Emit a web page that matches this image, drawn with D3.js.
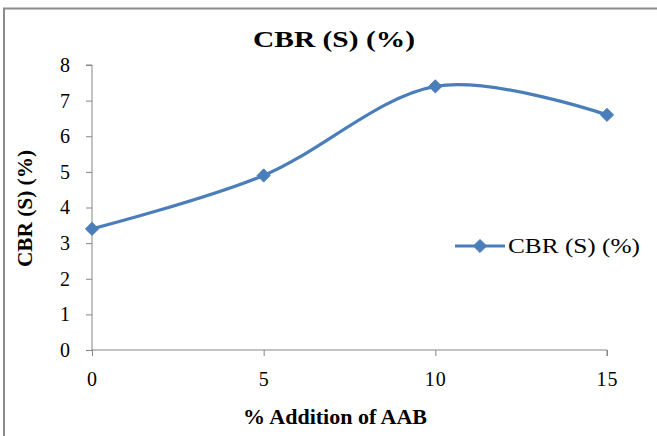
<!DOCTYPE html>
<html>
<head>
<meta charset="utf-8">
<script src="https://cdn.jsdelivr.net/npm/d3@7"></script>
<style>
  html, body { margin: 0; padding: 0; background: #fff; }
  svg { display: block; }
  text { font-family: "Liberation Serif", "Times New Roman", serif; fill: #000; }
</style>
</head>
<body>
<svg id="chart" width="657" height="436"></svg>
<script>
// CBR (soaked) versus percentage of AAB added
const additions = [0, 5, 10, 15];
const cbrValues = [3.4, 4.9, 7.4, 6.6];
const xTicks = [0, 5, 10, 15];
const yTicks = [0, 1, 2, 3, 4, 5, 6, 7, 8];
const seriesName = "CBR (S) (%)";
const chartTitle = "CBR (S) (%)";
const xTitle = "% Addition of AAB";
const yTitle = "CBR (S) (%)";

const svg = d3.select("#chart");
const W = 657, H = 436;
const lineColor = "#4a7ebb";
const axisColor = "#868686";

// chart area frame (top and left edges)
svg.append("line").attr("x1", 3).attr("x2", W).attr("y1", 8.5).attr("y2", 8.5)
  .attr("stroke", "#8c8c8c").attr("stroke-width", 2);
svg.append("line").attr("x1", 4).attr("x2", 4).attr("y1", 8).attr("y2", H)
  .attr("stroke", "#8c8c8c").attr("stroke-width", 2);

const x = d3.scaleLinear().domain([0, 15]).range([92, 607]);
const y = d3.scaleLinear().domain([0, 8]).range([350, 65]);

// y axis
const yAxis = d3.axisLeft(y).tickValues(yTicks).tickSize(6).tickPadding(16).tickFormat(d3.format("d"));
const gy = svg.append("g").attr("transform", `translate(${x(0)},0)`).call(yAxis);
gy.select(".domain").attr("stroke", axisColor).attr("d", `M-6,${y(8)}H0V${y(0)}`);
gy.selectAll(".tick line").attr("stroke", axisColor);
gy.selectAll(".tick text").attr("font-size", 20).attr("font-family", "Liberation Serif, serif").attr("fill", "#000");

// x axis
const xAxis = d3.axisBottom(x).tickValues(xTicks).tickSize(6).tickPadding(16).tickFormat(d3.format("d"));
const gx = svg.append("g").attr("transform", `translate(0,${y(0)})`).call(xAxis);
gx.select(".domain").attr("stroke", axisColor).attr("d", `M${x(0)},0H${x(15)}V6`);
gx.selectAll(".tick line").attr("stroke", axisColor);
gx.selectAll(".tick text").attr("font-size", 20).attr("font-family", "Liberation Serif, serif")
  .attr("fill", "#000").attr("letter-spacing", 1);

// smoothed series line
const pts = additions.map((a, i) => [a, cbrValues[i]]);
const line = d3.line().x(d => x(d[0])).y(d => y(d[1])).curve(d3.curveCardinal.tension(0));
svg.append("path").datum(pts).attr("d", line)
  .attr("fill", "none").attr("stroke", lineColor).attr("stroke-width", 3.2)
  .attr("stroke-linejoin", "round");

const diamond = d3.symbol().type(d3.symbolDiamond2).size(110);
svg.selectAll(".pt").data(pts).join("path").attr("class", "pt")
  .attr("transform", d => `translate(${x(d[0])},${y(d[1])})`)
  .attr("d", diamond).attr("fill", lineColor).attr("stroke", lineColor).attr("stroke-width", 1);

// titles
svg.append("text").attr("x", 253).attr("y", 47)
  .attr("font-size", 23).attr("font-weight", "bold")
  .attr("textLength", 162).attr("lengthAdjust", "spacingAndGlyphs").text(chartTitle);
svg.append("text").attr("x", 243).attr("y", 424)
  .attr("font-size", 20).attr("font-weight", "bold")
  .attr("textLength", 184).attr("lengthAdjust", "spacingAndGlyphs").text(xTitle);
svg.append("text").attr("transform", "translate(32,267) rotate(-90)")
  .attr("font-size", 20).attr("font-weight", "bold")
  .attr("textLength", 117).attr("lengthAdjust", "spacingAndGlyphs").text(yTitle);

// legend
const ly = 246;
svg.append("line").attr("x1", 455).attr("x2", 505).attr("y1", ly).attr("y2", ly)
  .attr("stroke", lineColor).attr("stroke-width", 3.2);
svg.append("path").attr("transform", `translate(480,${ly})`).attr("d", diamond)
  .attr("fill", lineColor).attr("stroke", lineColor).attr("stroke-width", 1);
svg.append("text").attr("x", 508).attr("y", ly + 7).attr("font-size", 20)
  .attr("textLength", 132).attr("lengthAdjust", "spacingAndGlyphs").text(seriesName);
</script>
</body>
</html>
